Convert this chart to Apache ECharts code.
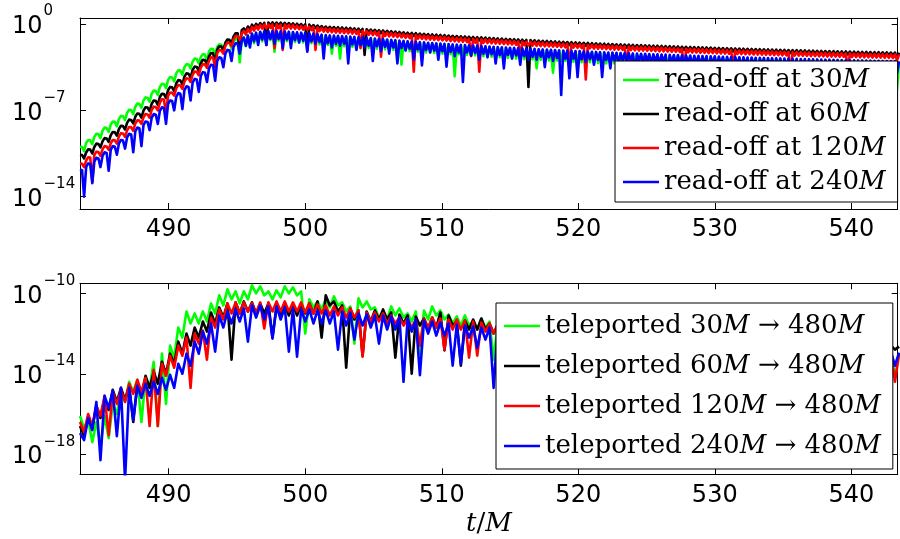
<!DOCTYPE html>
<html><head><meta charset="utf-8">
<script src="https://cdn.jsdelivr.net/npm/echarts@6/dist/echarts.min.js"></script>
<style>html,body{margin:0;padding:0;background:#fff}#c{width:900px;height:539px}</style>
</head><body><div id="c"></div>
<script>
// sampling grids of the signals (t/M)
const TOP_T0 = 483.5, TOP_DT = 0.15;
const BOT_T0 = 483.5, BOT_DT = 0.3;
const xMin = 483.5, xMax = 543.4;
const xTicks = [490, 500, 510, 520, 530, 540];
const topYTicks = [1e-14, 1e-7, 1];
const bottomYTicks = [1e-18, 1e-14, 1e-10];
const topNames = ['read-off at 30M', 'read-off at 60M', 'read-off at 120M', 'read-off at 240M'];
const bottomNames = ['teleported 30M \u2192 480M', 'teleported 60M \u2192 480M', 'teleported 120M \u2192 480M', 'teleported 240M \u2192 480M'];
const colors = ['#00ff00', '#000000', '#ff0000', '#0000ff'];

// ---- top panel, log10 of the amplitude (step 0.15) ----
const readoff30Log = [
-9.95,-9.98,-10.3,-9.65,-9.4,-9.43,-9.75,-9.15,-8.9,-8.93,-9.25,-8.65,-8.4,-8.43,-8.75,-8.15,-7.9,-7.93,-8.3,-7.7,
-7.45,-7.48,-7.8,-7.2,-6.95,-6.98,-7.3,-6.7,-6.45,-6.48,-6.8,-6.2,-5.95,-5.98,-6.3,-5.65,-5.4,-5.43,-5.75,-5.1,
-4.85,-4.88,-5.2,-4.55,-4.3,-4.33,-4.65,-4.0,-3.75,-3.78,-4.1,-3.5,-3.25,-3.28,-3.6,-3.05,-2.8,-2.83,-3.2,-2.68,
-2.45,-2.48,-3.0,-2.23,-2.0,-2.03,-2.6,-1.85,-1.65,-1.68,-2.2,-1.6,-1.4,-1.43,-2.0,-1.4,-1.2,-1.23,-3.1,-1.3,
-1.1,-1.8,-0.97,-1.6,-0.85,-1.55,-0.76,-1.5,-0.67,-1.4,-0.65,-1.35,-0.62,-1.3,-0.62,-2.25,-0.63,-1.35,-0.64,-1.4,
-0.65,-1.4,-0.67,-1.45,-0.69,-1.45,-0.72,-1.5,-0.75,-1.5,-0.77,-1.55,-0.8,-1.55,-0.83,-1.6,-0.87,-1.65,-0.91,-1.7,
-0.95,-1.7,-0.97,-2.4,-0.99,-1.75,-1.01,-2.8,-1.03,-1.8,-1.05,-1.8,-1.07,-1.85,-1.09,-1.85,-1.12,-1.9,-1.14,-1.9,
-1.17,-1.95,-1.19,-1.95,-1.22,-2.0,-1.24,-2.0,-1.27,-2.05,-1.3,-2.05,-1.33,-2.1,-1.36,-2.1,-1.39,-3.3,-1.42,-2.15,
-1.45,-2.2,-1.47,-2.2,-1.49,-2.25,-1.51,-2.25,-1.54,-2.3,-1.56,-2.3,-1.59,-2.35,-1.61,-2.35,-1.63,-2.4,-1.65,-2.4,
-1.68,-2.45,-1.7,-4.25,-1.72,-2.45,-1.74,-2.5,-1.76,-2.5,-1.78,-2.55,-1.8,-2.55,-1.81,-2.6,-1.83,-2.6,-1.85,-2.65,
-1.87,-2.65,-1.89,-2.7,-1.91,-2.7,-1.93,-2.75,-1.95,-2.75,-1.96,-2.8,-1.98,-2.8,-2.0,-2.8,-2.02,-2.85,-2.03,-2.85,
-2.05,-2.85,-2.07,-3.6,-2.09,-2.9,-2.1,-2.9,-2.12,-2.95,-2.14,-3.95,-2.16,-2.95,-2.17,-3.0,-2.19,-3.0,-2.2,-3.0,
-2.22,-3.05,-2.23,-3.05,-2.25,-3.1,-2.26,-3.1,-2.28,-3.1,-2.29,-3.15,-2.31,-3.15,-2.32,-3.2,-2.34,-3.2,-2.35,-3.2,
-2.37,-3.2,-2.38,-3.25,-2.4,-3.25,-2.41,-3.3,-2.42,-4.0,-2.43,-3.3,-2.45,-3.3,-2.46,-3.3,-2.47,-3.35,-2.48,-3.35,
-2.5,-3.35,-2.51,-3.4,-2.52,-3.4,-2.53,-3.4,-2.55,-3.45,-2.56,-3.45,-2.57,-3.45,-2.58,-3.5,-2.6,-4.3,-2.61,-3.5,
-2.62,-3.5,-2.63,-3.5,-2.64,-3.55,-2.65,-3.55,-2.66,-3.55,-2.67,-3.6,-2.69,-3.6,-2.7,-3.6,-2.71,-3.65,-2.72,-3.65,
-2.73,-3.65,-2.74,-3.65,-2.75,-3.7,-2.76,-3.7,-2.77,-3.7,-2.78,-3.75,-2.79,-4.5,-2.8,-3.75,-2.81,-3.75,-2.82,-3.8,
-2.83,-3.8,-2.84,-3.8,-2.85,-3.8,-2.86,-3.85,-2.87,-3.85,-2.87,-3.85,-2.88,-3.9,-2.89,-3.9,-2.9,-3.9,-2.91,-3.9,
-2.92,-3.95,-2.93,-3.95,-2.94,-4.4,-2.94,-3.95,-2.95,-4.0,-2.96,-4.0,-2.97,-4.0,-2.97,-4.0,-2.98,-4.05,-2.99,-4.05,
-3.0,-4.05,-3.0,-4.1,-3.01,-4.1,-3.02,-4.1,-3.03,-4.1,-3.03,-4.15,-3.04,-4.15,-3.05,-4.15,-3.05,-4.5,-3.06,-5.3,
-3.07];
const readoff60Log = [
-10.6,-10.63,-10.9,-10.42,-10.15,-10.18,-10.5,-9.97,-9.7,-9.73,-10.0,-9.52,-9.25,-9.28,-9.55,-9.02,-8.75,-8.78,-9.05,-8.52,
-8.25,-8.28,-8.55,-8.02,-7.75,-7.78,-8.05,-7.52,-7.25,-7.28,-7.6,-7.02,-6.75,-6.78,-7.05,-6.47,-6.2,-6.23,-6.55,-5.92,
-5.65,-5.68,-6.0,-5.37,-5.1,-5.13,-5.45,-4.82,-4.55,-4.58,-4.9,-4.27,-4.0,-4.03,-4.35,-3.72,-3.45,-3.48,-3.8,-3.17,
-2.9,-2.93,-3.25,-2.62,-2.35,-2.38,-3.2,-2.07,-1.8,-1.83,-2.1,-1.52,-1.25,-1.28,-1.55,-1.0,-0.75,-0.75,-2.25,-0.5,
-0.35,-0.6,-0.2,-0.45,-0.05,-0.3,0.02,-0.22,0.08,-0.17,0.1,-1.7,0.13,-0.12,0.13,-0.12,0.12,-0.13,0.11,-0.14,
0.1,-0.15,0.08,-0.17,0.06,-0.19,0.03,-0.22,0.0,-0.25,-0.02,-2.1,-0.05,-0.3,-0.08,-0.33,-0.12,-0.37,-0.16,-0.41,
-0.2,-0.45,-0.22,-0.47,-0.24,-0.49,-0.26,-0.51,-0.28,-0.53,-0.3,-0.55,-0.32,-0.57,-0.35,-0.6,-0.37,-0.62,-0.4,-2.5,
-0.42,-0.67,-0.45,-0.7,-0.47,-0.72,-0.5,-0.75,-0.52,-0.77,-0.55,-0.8,-0.58,-0.83,-0.61,-0.86,-0.64,-0.89,-0.67,-0.92,
-0.7,-0.95,-0.72,-0.97,-0.74,-0.99,-0.77,-1.02,-0.79,-1.04,-0.82,-1.07,-0.84,-1.09,-0.86,-1.11,-0.88,-1.13,-0.9,-1.15,
-0.93,-1.18,-0.95,-1.2,-0.97,-1.22,-0.99,-1.24,-1.01,-1.26,-1.03,-1.28,-1.05,-1.3,-1.07,-1.32,-1.08,-1.33,-1.1,-1.35,
-1.12,-1.37,-1.14,-1.39,-1.16,-1.41,-1.18,-1.43,-1.2,-1.45,-1.22,-1.47,-1.23,-1.48,-1.25,-1.5,-1.27,-1.52,-1.29,-5.1,
-1.3,-1.55,-1.32,-1.57,-1.34,-1.59,-1.36,-1.61,-1.37,-1.62,-1.39,-1.64,-1.41,-1.66,-1.43,-1.68,-1.44,-1.69,-1.46,-1.71,
-1.47,-1.72,-1.49,-1.74,-1.5,-1.75,-1.52,-1.77,-1.53,-1.78,-1.55,-1.8,-1.56,-1.81,-1.58,-1.83,-1.59,-1.84,-1.61,-1.86,
-1.62,-1.87,-1.64,-1.89,-1.65,-1.9,-1.66,-1.91,-1.67,-1.92,-1.69,-1.94,-1.7,-1.95,-1.71,-1.96,-1.72,-1.97,-1.74,-1.99,
-1.75,-2.0,-1.76,-2.01,-1.77,-2.02,-1.79,-2.04,-1.8,-2.05,-1.81,-2.06,-1.82,-2.07,-1.84,-2.09,-1.85,-2.1,-1.86,-2.11,
-1.87,-2.12,-1.88,-2.13,-1.89,-2.14,-1.9,-2.15,-1.91,-2.16,-1.93,-2.18,-1.94,-2.19,-1.95,-2.2,-1.96,-2.21,-1.97,-2.22,
-1.98,-2.23,-1.99,-2.24,-2.0,-2.25,-2.01,-2.26,-2.02,-2.27,-2.03,-2.28,-2.04,-2.29,-2.05,-2.3,-2.06,-2.31,-2.07,-2.32,
-2.08,-2.33,-2.09,-2.34,-2.1,-2.35,-2.11,-2.36,-2.12,-2.37,-2.12,-2.37,-2.13,-2.38,-2.14,-2.39,-2.15,-2.4,-2.16,-2.41,
-2.17,-2.42,-2.18,-2.43,-2.19,-2.44,-2.19,-2.44,-2.2,-2.45,-2.21,-2.46,-2.22,-2.47,-2.22,-2.47,-2.23,-2.48,-2.24,-2.49,
-2.25,-2.5,-2.26,-2.51,-2.26,-2.51,-2.27,-2.52,-2.28,-2.53,-2.28,-2.53,-2.29,-2.54,-2.3,-2.55,-2.31,-2.56,-2.31,-2.8,
-2.32];
const readoff120Log = [
-11.3,-11.33,-11.6,-11.07,-10.8,-10.83,-12.8,-10.62,-10.35,-10.38,-10.7,-10.17,-9.9,-9.93,-10.2,-9.67,-9.4,-9.43,-9.7,-9.12,
-8.85,-8.88,-9.15,-8.62,-8.35,-8.38,-8.65,-8.07,-7.8,-7.83,-8.1,-7.57,-7.3,-7.33,-7.6,-6.97,-6.7,-6.73,-7.0,-6.37,
-6.1,-6.13,-7.3,-5.82,-5.55,-5.58,-5.8,-5.22,-4.95,-4.98,-5.25,-4.67,-4.4,-4.43,-4.7,-4.12,-3.85,-3.88,-4.15,-3.52,
-3.25,-3.28,-3.55,-2.97,-2.7,-2.73,-3.5,-2.37,-2.1,-2.13,-2.4,-1.77,-1.5,-1.53,-1.8,-1.24,-0.97,-0.98,-1.3,-0.78,
-0.55,-0.85,-0.39,-0.69,-0.23,-0.53,-0.15,-0.45,-0.07,-0.37,-0.05,-0.35,-0.02,-0.32,-0.02,-1.95,-0.03,-0.33,-0.04,-2.1,
-0.05,-0.35,-0.07,-0.37,-0.09,-0.39,-0.12,-0.42,-0.15,-0.45,-0.17,-0.47,-0.2,-0.5,-0.23,-2.1,-0.27,-0.57,-0.31,-0.61,
-0.35,-0.65,-0.37,-0.67,-0.39,-0.69,-0.41,-0.71,-0.43,-0.73,-0.45,-0.75,-0.47,-0.77,-0.49,-0.79,-0.52,-1.95,-0.54,-0.84,
-0.57,-0.87,-0.59,-0.89,-0.62,-0.92,-0.64,-2.65,-0.67,-0.97,-0.7,-1.0,-0.73,-1.03,-0.76,-1.06,-0.79,-1.09,-0.82,-1.12,
-0.85,-1.15,-0.87,-3.87,-0.89,-1.19,-0.91,-1.21,-0.94,-1.24,-0.96,-1.26,-0.99,-1.29,-1.01,-1.31,-1.03,-1.33,-1.05,-1.35,
-1.08,-1.38,-1.1,-1.4,-1.12,-1.42,-1.14,-1.44,-1.16,-1.46,-1.18,-2.6,-1.2,-1.5,-1.21,-3.87,-1.23,-1.53,-1.25,-1.55,
-1.27,-1.57,-1.29,-1.59,-1.31,-1.61,-1.33,-1.63,-1.35,-1.65,-1.36,-1.66,-1.38,-1.68,-1.4,-2.7,-1.42,-1.72,-1.44,-1.74,
-1.45,-1.75,-1.47,-1.77,-1.49,-1.79,-1.51,-1.81,-1.52,-1.82,-1.54,-1.84,-1.56,-1.86,-1.57,-1.87,-1.59,-1.89,-1.6,-3.5,
-1.62,-1.92,-1.63,-1.93,-1.65,-1.95,-1.66,-4.5,-1.68,-1.98,-1.69,-1.99,-1.71,-2.01,-1.72,-2.02,-1.74,-2.04,-1.76,-2.06,
-1.77,-2.07,-1.78,-2.08,-1.8,-2.1,-1.81,-3.4,-1.82,-2.12,-1.83,-2.13,-1.85,-2.15,-1.86,-2.16,-1.87,-2.17,-1.88,-2.18,
-1.9,-2.2,-1.91,-2.21,-1.92,-2.22,-1.94,-2.24,-1.95,-2.25,-1.96,-2.26,-1.97,-2.27,-1.99,-3.9,-2.0,-2.3,-2.01,-2.31,
-2.02,-2.32,-2.03,-2.33,-2.04,-2.34,-2.05,-2.35,-2.06,-2.36,-2.08,-2.38,-2.09,-2.39,-2.1,-2.4,-2.11,-2.41,-2.12,-3.6,
-2.13,-2.43,-2.14,-2.44,-2.15,-2.45,-2.16,-2.46,-2.17,-2.47,-2.18,-2.48,-2.19,-2.49,-2.2,-2.5,-2.21,-2.51,-2.22,-2.52,
-2.23,-2.53,-2.24,-2.54,-2.25,-2.55,-2.26,-4.1,-2.27,-2.57,-2.27,-2.57,-2.28,-2.58,-2.29,-2.59,-2.3,-2.6,-2.31,-2.61,
-2.32,-2.62,-2.33,-2.63,-2.34,-2.64,-2.34,-2.64,-2.35,-2.65,-2.36,-2.66,-2.37,-2.67,-2.37,-3.7,-2.38,-2.68,-2.39,-2.69,
-2.4,-2.7,-2.4,-2.7,-2.41,-2.71,-2.42,-2.72,-2.43,-2.73,-2.43,-2.73,-2.44,-2.74,-2.45,-2.75,-2.46,-2.76,-2.46,-2.95,
-2.47];
const readoff240Log = [
-11.8,-11.85,-14.0,-11.6,-11.3,-11.35,-12.9,-11.15,-10.85,-10.9,-11.6,-10.7,-10.4,-10.45,-11.9,-10.2,-9.9,-9.95,-10.6,-9.7,
-9.4,-9.45,-10.1,-9.2,-8.9,-8.95,-10.4,-8.7,-8.4,-8.45,-9.9,-8.2,-7.9,-7.95,-8.6,-7.6,-7.3,-7.35,-8.1,-7.05,
-6.75,-6.8,-8.1,-6.5,-6.2,-6.25,-7.0,-5.9,-5.6,-5.65,-6.9,-5.35,-5.05,-5.1,-6.2,-4.75,-4.45,-4.5,-5.5,-4.2,
-3.9,-3.95,-4.7,-3.6,-3.3,-3.35,-4.6,-3.0,-2.7,-2.75,-3.5,-2.4,-2.1,-2.15,-3.0,-1.85,-1.55,-1.6,-2.4,-1.35,
-1.1,-1.75,-0.94,-1.9,-0.78,-1.4,-0.7,-1.7,-0.62,-1.25,-0.6,-1.7,-0.57,-1.2,-0.57,-1.6,-0.58,-1.2,-0.59,-1.95,
-0.6,-1.25,-0.62,-1.95,-0.64,-1.3,-0.67,-1.5,-0.7,-1.35,-0.72,-2.25,-0.75,-1.4,-0.78,-1.6,-0.82,-1.45,-0.86,-2.8,
-0.9,-1.55,-0.92,-1.9,-0.94,-1.6,-0.96,-1.75,-0.98,-1.6,-1.0,-3.2,-1.02,-1.65,-1.04,-2.1,-1.07,-1.7,-1.09,-1.9,
-1.12,-1.75,-1.14,-3.0,-1.17,-1.8,-1.19,-2.2,-1.22,-1.85,-1.25,-2.4,-1.28,-1.9,-1.31,-3.2,-1.34,-1.95,-1.37,-2.15,
-1.4,-2.0,-1.42,-2.9,-1.44,-2.05,-1.47,-3.35,-1.49,-2.1,-1.52,-2.3,-1.54,-2.15,-1.56,-2.9,-1.58,-2.2,-1.6,-3.46,
-1.63,-2.25,-1.65,-2.6,-1.67,-2.3,-1.69,-4.7,-1.71,-2.3,-1.73,-2.55,-1.75,-2.35,-1.76,-2.9,-1.78,-2.4,-1.8,-2.7,
-1.82,-2.45,-1.84,-3.2,-1.86,-2.5,-1.88,-3.6,-1.9,-2.5,-1.92,-2.8,-1.93,-2.55,-1.95,-3.3,-1.97,-2.6,-1.99,-2.9,
-2.0,-2.65,-2.02,-2.9,-2.04,-2.65,-2.06,-3.5,-2.07,-2.7,-2.09,-3.0,-2.11,-2.75,-2.13,-5.75,-2.14,-2.8,-2.16,-4.4,
-2.17,-2.8,-2.19,-4.3,-2.2,-2.85,-2.22,-3.1,-2.23,-2.85,-2.25,-3.3,-2.26,-2.9,-2.28,-4.3,-2.29,-2.9,-2.31,-3.6,
-2.32,-2.95,-2.33,-3.3,-2.35,-2.95,-2.36,-3.15,-2.37,-3.0,-2.38,-3.8,-2.4,-3.0,-2.41,-3.2,-2.42,-3.05,-2.43,-3.25,
-2.45,-3.05,-2.46,-3.3,-2.47,-3.1,-2.48,-4.2,-2.5,-3.1,-2.51,-3.3,-2.52,-3.15,-2.53,-3.35,-2.55,-3.15,-2.56,-3.4,
-2.57,-3.2,-2.58,-3.4,-2.59,-3.2,-2.6,-3.9,-2.61,-3.25,-2.62,-3.45,-2.64,-3.25,-2.65,-3.5,-2.66,-3.3,-2.67,-4.5,
-2.68,-3.3,-2.69,-3.5,-2.7,-3.3,-2.71,-3.55,-2.72,-3.35,-2.73,-4.0,-2.74,-3.35,-2.75,-3.6,-2.76,-3.4,-2.77,-3.6,
-2.78,-3.4,-2.79,-3.65,-2.8,-3.4,-2.81,-3.65,-2.82,-3.45,-2.82,-4.6,-2.83,-3.45,-2.84,-3.7,-2.85,-3.5,-2.86,-3.7,
-2.87,-3.5,-2.88,-3.75,-2.89,-3.5,-2.89,-3.75,-2.9,-3.55,-2.91,-3.8,-2.92,-3.55,-2.92,-4.3,-2.93,-3.55,-2.94,-3.8,
-2.95,-3.6,-2.95,-3.85,-2.96,-3.6,-2.97,-3.85,-2.98,-3.6,-2.98,-3.9,-2.99,-3.6,-3.0,-3.9,-3.0,-3.65,-3.01,-4.0,
-3.02];

// ---- bottom panel, log10 of the amplitude (step 0.3) ----
const tele30Log = [
-16.1,-16.7,-16.3,-17.4,-16.4,-17.6,-16.1,-17.2,-15.5,-16.0,
-14.9,-15.4,-14.4,-14.9,-14.3,-16.4,-14.2,-14.7,-13.4,-16.6,
-13.0,-15.5,-12.6,-13.2,-11.7,-12.2,-10.9,-11.5,-11.0,-11.5,
-10.9,-11.4,-10.5,-11.0,-10.1,-10.6,-9.8,-10.3,-9.9,-10.5,
-9.9,-10.3,-9.6,-10.0,-9.65,-10.1,-9.9,-10.3,-9.85,-10.2,
-9.65,-10.0,-9.7,-10.1,-9.9,-12.0,-10.3,-10.7,-10.4,-10.8,
-10.3,-10.7,-10.15,-10.6,-10.45,-10.9,-10.65,-12.5,-10.25,-10.7,
-10.4,-10.8,-10.7,-11.2,-11.0,-11.3,-10.65,-11.1,-10.75,-11.2,
-11.0,-11.4,-10.9,-13.0,-10.85,-11.3,-10.65,-11.1,-10.85,-11.3,
-11.05,-11.5,-11.15,-11.6,-11.1,-11.6,-11.4,-11.8,-11.25,-11.7,
-11.4,-13.3,-11.45,-11.9,-11.5,-12.0,-11.55,-12.0,-11.6,-12.1,
-11.65,-12.1,-11.7,-12.6,-11.75,-12.2,-11.8,-12.3,-11.85,-12.3,
-11.9,-12.4,-11.95,-12.4,-12.0,-13.1,-12.05,-12.5,-12.1,-12.5,
-12.15,-12.6,-12.2,-12.6,-12.2,-12.7,-12.25,-12.7,-12.3,-13.4,
-12.35,-12.8,-12.4,-12.8,-12.4,-12.9,-12.45,-12.9,-12.5,-12.9,
-12.5,-13.0,-12.55,-13.6,-12.6,-13.0,-12.6,-13.1,-12.65,-13.1,
-12.65,-13.1,-12.7,-13.2,-12.7,-13.8,-12.75,-13.2,-12.75,-13.2,
-12.8,-13.3,-12.8,-13.3,-12.8,-13.3,-12.85,-14.0,-12.85,-13.3,
-12.85,-13.4,-12.9,-13.4,-12.9,-13.4,-12.9,-13.4,-12.9,-14.1,
-12.9,-13.4,-12.95,-13.5,-12.95,-13.5,-12.95,-13.5,-13.0,-14.2,
-13.0];
const tele60Log = [
-16.6,-17.1,-16.1,-16.7,-15.6,-16.2,-15.2,-15.8,-14.8,-15.4,
-14.7,-15.3,-14.6,-16.4,-14.5,-15.1,-14.1,-14.7,-13.9,-14.5,
-13.4,-14.0,-13.0,-13.5,-12.4,-13.0,-12.0,-12.6,-11.7,-12.2,
-11.4,-11.9,-10.95,-11.5,-10.7,-11.2,-10.5,-13.3,-10.45,-11.0,
-10.4,-10.9,-10.45,-11.0,-10.5,-11.0,-10.5,-12.2,-10.6,-11.1,
-10.6,-11.1,-10.55,-11.1,-10.55,-11.0,-10.5,-11.0,-10.4,-12.2,
-10.1,-10.6,-10.4,-10.9,-10.6,-13.7,-10.75,-11.3,-10.85,-13.1,
-10.9,-11.4,-10.85,-11.3,-10.8,-11.3,-10.95,-13.2,-11.05,-11.5,
-11.1,-14.0,-11.15,-11.6,-11.25,-11.8,-11.2,-11.7,-10.95,-12.84,
-11.1,-11.6,-11.4,-13.6,-11.35,-11.8,-11.3,-11.8,-11.25,-11.8,
-11.5,-12.0,-11.55,-12.1,-11.6,-12.1,-11.6,-12.1,-11.65,-12.2,
-11.7,-12.2,-11.7,-12.2,-11.75,-13.0,-11.8,-12.3,-11.8,-12.3,
-11.85,-12.3,-11.85,-12.4,-11.9,-12.4,-11.9,-12.4,-11.95,-13.2,
-11.95,-12.5,-12.0,-12.5,-12.0,-12.5,-12.05,-12.5,-12.05,-12.6,
-12.1,-12.6,-12.1,-13.4,-12.15,-12.6,-12.15,-12.7,-12.2,-12.7,
-12.2,-12.7,-12.25,-12.7,-12.25,-12.8,-12.3,-13.5,-12.3,-12.8,
-12.3,-12.8,-12.35,-12.8,-12.35,-12.9,-12.4,-12.9,-12.4,-12.9,
-12.4,-13.6,-12.45,-12.9,-12.45,-12.9,-12.5,-13.0,-12.5,-13.0,
-12.5,-13.0,-12.5,-13.0,-12.55,-13.7,-12.55,-13.0,-12.55,-13.0,
-12.6,-13.1,-12.6,-13.1,-12.6,-13.1,-12.6,-13.1,-12.6,-12.8,
-12.65];
const tele120Log = [
-16.4,-16.9,-16.0,-16.6,-15.6,-16.1,-15.1,-17.05,-14.9,-15.5,
-14.8,-15.4,-14.5,-15.0,-14.3,-14.9,-14.2,-16.6,-13.8,-16.6,
-13.5,-14.1,-13.1,-13.7,-12.6,-13.1,-12.2,-14.7,-12.0,-12.5,
-11.85,-13.3,-11.2,-11.7,-10.8,-11.3,-10.5,-11.0,-10.45,-11.0,
-10.45,-10.9,-10.5,-11.0,-10.45,-11.75,-10.45,-10.9,-10.4,-10.9,
-10.4,-10.9,-10.45,-10.9,-10.45,-10.95,-10.5,-11.0,-10.55,-11.0,
-10.6,-11.1,-10.65,-11.1,-10.7,-11.2,-10.75,-11.2,-10.85,-13.15,
-10.95,-11.4,-10.95,-11.4,-11.0,-11.5,-11.1,-11.5,-11.2,-11.6,
-11.25,-11.7,-11.3,-12.6,-11.25,-11.7,-11.2,-11.7,-11.25,-12.8,
-11.3,-11.8,-11.3,-11.8,-11.35,-13.2,-11.4,-13.1,-11.45,-11.9,
-11.5,-12.0,-11.55,-12.0,-11.6,-12.1,-11.65,-12.1,-11.7,-12.9,
-11.75,-12.2,-11.8,-12.2,-11.85,-12.3,-11.9,-12.3,-11.95,-12.4,
-12.0,-13.3,-12.05,-12.5,-12.1,-12.5,-12.15,-12.6,-12.2,-12.6,
-12.25,-12.7,-12.3,-13.5,-12.35,-12.8,-12.4,-12.8,-12.45,-12.9,
-12.5,-12.9,-12.5,-12.9,-12.55,-13.0,-12.55,-13.8,-12.6,-13.0,
-12.6,-13.0,-12.65,-13.1,-12.65,-13.1,-12.7,-13.1,-12.7,-13.1,
-12.7,-13.9,-12.75,-13.2,-12.75,-13.2,-12.8,-13.2,-12.8,-13.2,
-12.8,-13.3,-12.8,-13.3,-12.85,-14.0,-12.85,-13.3,-12.85,-13.3,
-12.85,-13.3,-12.9,-13.4,-12.9,-13.4,-12.9,-13.4,-12.9,-13.4,
-12.9,-13.4,-12.9,-14.1,-12.9,-13.4,-12.9,-13.4,-12.9,-14.4,
-13.0];
const tele240Log = [
-16.95,-17.3,-16.2,-16.8,-15.4,-18.3,-15.1,-15.7,-14.85,-17.1,
-14.7,-19.3,-14.7,-16.3,-14.6,-15.2,-14.5,-15.1,-14.4,-15.0,
-14.2,-14.8,-14.05,-14.7,-13.5,-14.0,-13.0,-13.6,-12.4,-13.0,
-11.9,-12.5,-11.5,-12.9,-11.1,-11.7,-10.9,-11.5,-10.8,-11.4,
-10.75,-12.4,-10.6,-11.2,-10.6,-11.3,-10.65,-12.25,-10.65,-11.3,
-10.7,-12.9,-10.75,-13.15,-10.8,-11.4,-10.8,-11.5,-10.85,-11.5,
-10.85,-11.5,-10.9,-12.8,-10.9,-11.6,-10.95,-12.3,-11.0,-11.6,
-11.05,-11.7,-11.1,-12.5,-11.1,-11.8,-11.15,-11.8,-11.2,-14.4,
-11.25,-11.9,-11.3,-14.07,-11.35,-12.0,-11.4,-12.1,-11.45,-12.1,
-11.5,-13.6,-11.55,-13.5,-11.6,-12.2,-11.65,-12.7,-11.7,-12.3,
-11.7,-14.7,-11.75,-12.4,-11.8,-12.4,-11.85,-12.5,-11.9,-12.5,
-11.95,-13.6,-12.0,-12.6,-12.05,-12.7,-12.1,-12.7,-12.15,-13.8,
-12.2,-12.8,-12.25,-12.8,-12.3,-12.9,-12.35,-14.0,-12.4,-12.9,
-12.45,-13.0,-12.5,-13.0,-12.5,-13.8,-12.55,-13.1,-12.6,-13.1,
-12.6,-13.2,-12.65,-14.1,-12.65,-13.2,-12.7,-13.3,-12.7,-13.3,
-12.75,-14.2,-12.75,-13.3,-12.8,-13.4,-12.8,-13.4,-12.8,-14.0,
-12.85,-13.4,-12.85,-13.5,-12.85,-13.5,-12.9,-14.5,-12.9,-13.5,
-12.9,-13.5,-12.9,-13.5,-12.9,-13.6,-12.9,-13.6,-12.9,-14.3,
-12.9,-13.6,-12.9,-13.6,-12.9,-13.6,-12.9,-14.6,-12.9,-13.6,
-12.9,-13.6,-12.9,-13.6,-12.9,-13.7,-12.9,-13.7,-12.9,-13.6,
-12.95];

const topData = [readoff30Log, readoff60Log, readoff120Log, readoff240Log];
const bottomData = [tele30Log, tele60Log, tele120Log, tele240Log];

function toPoints(logs, t0, dt) {
  return logs.map((e, i) => [t0 + dt * i, Math.pow(10, e)]);
}
function powLabel(v) {
  const e = Math.round(Math.log10(v));
  return '{b|10}{s|' + (e < 0 ? '\u2212' + (-e) : String(e)) + '}';
}
const sansFont = 'DejaVu Sans';
const serifFont = 'DejaVu Serif';
const LINE_W = 2.6;

function xAxis(grid, pos, showLabel, withName) {
  const ax = {
    type: 'value', gridIndex: grid, position: pos, min: xMin, max: xMax,
    axisLine: { show: true, onZero: false, lineStyle: { color: '#000', width: 1 } },
    axisTick: { show: true, inside: true, length: 6, customValues: xTicks, lineStyle: { color: '#000' } },
    axisLabel: { show: showLabel, customValues: xTicks, margin: 9, color: '#000', fontFamily: sansFont, fontSize: 24 },
    splitLine: { show: false }
  };
  if (withName) {
    ax.name = '{i|t}/{i|M}';
    ax.nameLocation = 'middle';
    ax.nameGap = 37;
    ax.nameTextStyle = { color: '#000', fontFamily: serifFont, fontSize: 26,
      rich: { i: { fontFamily: serifFont, fontStyle: 'italic', fontSize: 26, color: '#000' } } };
  }
  return ax;
}
function yAxis(grid, pos, showLabel, min, max, ticks) {
  return {
    type: 'log', logBase: 10, gridIndex: grid, position: pos, min: min, max: max,
    axisLine: { show: true, onZero: false, lineStyle: { color: '#000', width: 1 } },
    axisTick: { show: true, inside: true, length: 6, customValues: ticks, lineStyle: { color: '#000' } },
    minorTick: { show: false },
    axisLabel: {
      show: showLabel, customValues: ticks, formatter: powLabel, align: 'left', margin: 68,
      rich: {
        b: { fontFamily: sansFont, fontSize: 24, color: '#000', verticalAlign: 'top', padding: [11, 0, 5, 0] },
        s: { fontFamily: sansFont, fontSize: 15, color: '#000', verticalAlign: 'top', padding: [0, 0, 0, 1] }
      }
    },
    splitLine: { show: false }
  };
}
function legendFmt(name) { return name.replace(/(\d)M/g, '$1{i|M}'); }
function legend(names, left, top, gap, padding) {
  return {
    data: names, orient: 'vertical', left: left, top: top, icon: 'rect',
    itemWidth: 36, itemHeight: 2.5, itemGap: gap, padding: padding,
    backgroundColor: '#fff', borderColor: '#000', borderWidth: 1, borderRadius: 0,
    selectedMode: false, formatter: legendFmt,
    textStyle: { color: '#000', fontFamily: serifFont, fontSize: 26, lineHeight: 26,
      rich: { i: { fontFamily: serifFont, fontStyle: 'italic', fontSize: 26, lineHeight: 26, color: '#000' } } }
  };
}

const series = [];
topNames.forEach((n, k) => series.push({
  name: n, type: 'line', xAxisIndex: 0, yAxisIndex: 0, data: toPoints(topData[k], TOP_T0, TOP_DT),
  showSymbol: false, symbol: 'none', clip: true, silent: true,
  lineStyle: { width: LINE_W, color: colors[k], join: 'round' }, itemStyle: { color: colors[k] }, emphasis: { disabled: true }
}));
bottomNames.forEach((n, k) => series.push({
  name: n, type: 'line', xAxisIndex: 2, yAxisIndex: 2, data: toPoints(bottomData[k], BOT_T0, BOT_DT),
  showSymbol: false, symbol: 'none', clip: true, silent: true,
  lineStyle: { width: LINE_W, color: colors[k], join: 'round' }, itemStyle: { color: colors[k] }, emphasis: { disabled: true }
}));

const chart = echarts.init(document.getElementById('c'), null, { renderer: 'canvas' });
chart.setOption({
  animation: false,
  backgroundColor: '#fff',
  grid: [
    { left: 80, top: 18, width: 817.7, height: 191 },
    { left: 80, top: 283.3, width: 817.7, height: 191 }
  ],
  xAxis: [ xAxis(0, 'bottom', true, false), xAxis(0, 'top', false, false),
           xAxis(1, 'bottom', true, true), xAxis(1, 'top', false, false) ],
  yAxis: [ yAxis(0, 'left', true, 1e-15, Math.pow(10, 0.49), topYTicks),
           yAxis(0, 'right', false, 1e-15, Math.pow(10, 0.49), topYTicks),
           yAxis(1, 'left', true, 1e-19, Math.pow(10, -9.5), bottomYTicks),
           yAxis(1, 'right', false, 1e-19, Math.pow(10, -9.5), bottomYTicks) ],
  legend: [ legend(topNames, 615, 61, 8, [6, 12, 7, 8]),
            legend(bottomNames, 496, 303, 14, [10, 12, 10, 8]) ],
  series: series
});
</script></body></html>
